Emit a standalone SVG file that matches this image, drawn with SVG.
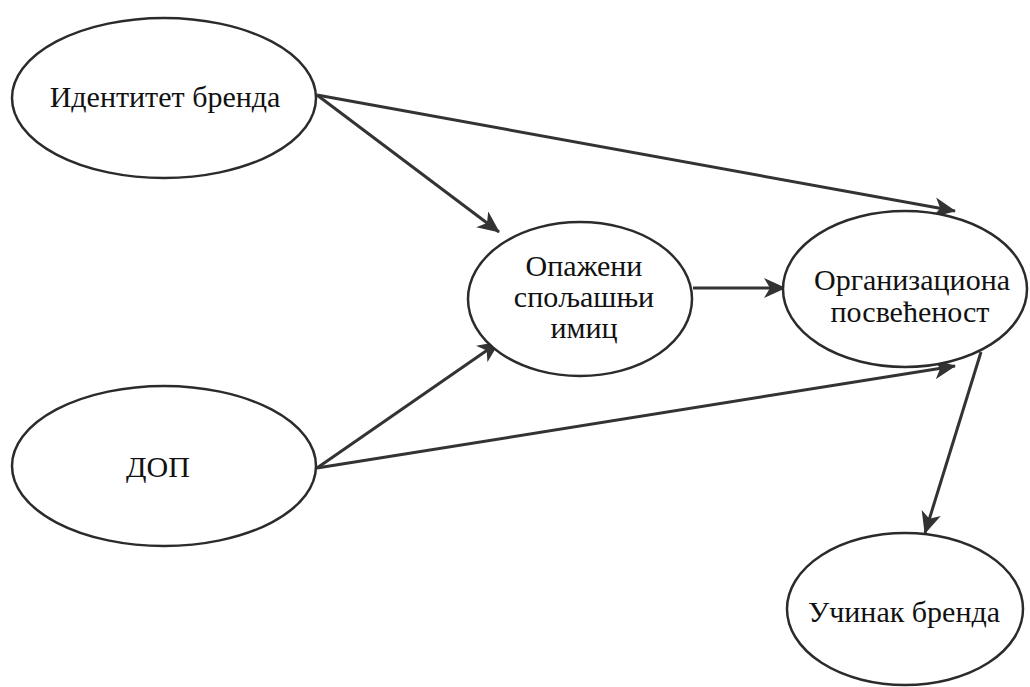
<svg xmlns="http://www.w3.org/2000/svg" width="1030" height="687" viewBox="0 0 1030 687">
  <defs>
    <style>
      .node ellipse { fill: #ffffff; stroke: #2b2b2b; stroke-width: 2.5; }
      .node text { font-family: "Liberation Serif", "DejaVu Serif", "Times New Roman", serif; font-size: 30px; fill: #111111; text-anchor: middle; }
      .edge { stroke: #333333; stroke-width: 3; fill: none; marker-end: url(#arrow); }
    </style>
    <marker id="arrow" markerUnits="userSpaceOnUse" markerWidth="22" markerHeight="20" refX="21" refY="10" orient="auto">
      <path d="M0,0 L22,10 L0,20 L6,10 Z" fill="#333333"/>
    </marker>
  </defs>

  <rect width="1030" height="687" fill="#ffffff"/>

  <!-- connectors -->
  <g id="connectors">
    <line class="edge" x1="317" y1="95" x2="499" y2="232"/>
    <line class="edge" x1="317" y1="95" x2="955" y2="211"/>
    <line class="edge" x1="317" y1="468" x2="499" y2="342"/>
    <line class="edge" x1="317" y1="468" x2="955" y2="366"/>
    <line class="edge" x1="693" y1="288" x2="785" y2="288"/>
    <line class="edge" x1="981" y1="352" x2="925" y2="533"/>
  </g>

  <!-- nodes -->
  <g id="node-identitet" class="node">
    <ellipse cx="164" cy="98" rx="152" ry="80"/>
    <text x="165" y="107">Идентитет бренда</text>
  </g>

  <g id="node-dop" class="node">
    <ellipse cx="164" cy="466" rx="152" ry="80"/>
    <text x="158" y="477">ДОП</text>
  </g>

  <g id="node-opazeni" class="node">
    <ellipse cx="580" cy="299" rx="112" ry="77"/>
    <text x="584" y="276">Опажени</text>
    <text x="584" y="307">спољашњи</text>
    <text x="584" y="338">имиц</text>
  </g>

  <g id="node-organizaciona" class="node">
    <ellipse cx="905" cy="289" rx="122" ry="78"/>
    <text x="912" y="290">Организациона</text>
    <text x="910" y="322">посвећеност</text>
  </g>

  <g id="node-ucinak" class="node">
    <ellipse cx="905" cy="609" rx="118" ry="76"/>
    <text x="904" y="622">Учинак бренда</text>
  </g>
</svg>
